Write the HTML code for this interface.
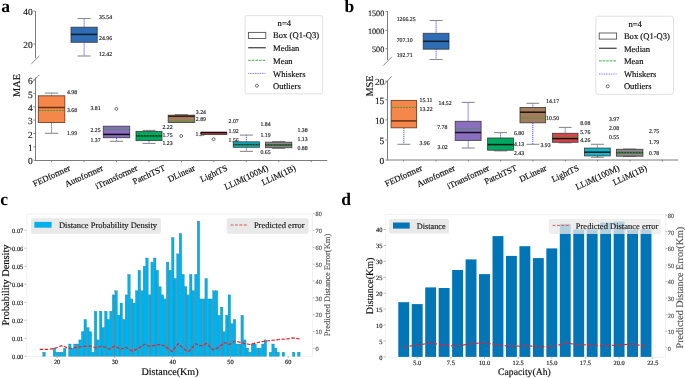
<!DOCTYPE html>
<html><head><meta charset="utf-8"><style>
html,body{margin:0;padding:0;background:#fff;}
body{width:685px;height:378px;overflow:hidden;}
svg{display:block;font-family:"Liberation Serif", serif;will-change:transform;text-rendering:geometricPrecision;}
</style></head><body>
<svg width="685" height="378" viewBox="0 0 685 378">
<rect width="685" height="378" fill="#fff"/>
<text x="1.3" y="11.76" font-size="17.5" text-anchor="start" fill="#000" stroke="#000" stroke-width="0" font-weight="bold" >a</text>
<line x1="35.5" y1="11.1" x2="35.5" y2="58.2" stroke="#6e6e6e" stroke-width="0.9" />
<line x1="33.4" y1="11.1" x2="35.3" y2="11.1" stroke="#6e6e6e" stroke-width="0.8" />
<text x="32.7" y="15.25" font-size="9.4" text-anchor="end" fill="#1a1a1a" stroke="#1a1a1a" stroke-width="0.15" font-weight="normal" >40</text>
<line x1="33.4" y1="44" x2="35.3" y2="44" stroke="#6e6e6e" stroke-width="0.8" />
<text x="32.7" y="48.15" font-size="9.4" text-anchor="end" fill="#1a1a1a" stroke="#1a1a1a" stroke-width="0.15" font-weight="normal" >20</text>
<line x1="31.4" y1="63.8" x2="39.4" y2="55.9" stroke="#6e6e6e" stroke-width="0.8" />
<line x1="31.4" y1="82.9" x2="39.4" y2="74.9" stroke="#6e6e6e" stroke-width="0.8" />
<line x1="35.5" y1="77.3" x2="35.5" y2="160.5" stroke="#6e6e6e" stroke-width="0.9" />
<line x1="35" y1="160.5" x2="327.3" y2="160.5" stroke="#6e6e6e" stroke-width="0.9" />
<line x1="33.4" y1="160.3" x2="35.3" y2="160.3" stroke="#6e6e6e" stroke-width="0.8" />
<text x="32.7" y="164.45" font-size="9.4" text-anchor="end" fill="#1a1a1a" stroke="#1a1a1a" stroke-width="0.15" font-weight="normal" >0</text>
<line x1="33.4" y1="146.92" x2="35.3" y2="146.92" stroke="#6e6e6e" stroke-width="0.8" />
<text x="32.7" y="151.07" font-size="9.4" text-anchor="end" fill="#1a1a1a" stroke="#1a1a1a" stroke-width="0.15" font-weight="normal" >1</text>
<line x1="33.4" y1="133.54" x2="35.3" y2="133.54" stroke="#6e6e6e" stroke-width="0.8" />
<text x="32.7" y="137.69" font-size="9.4" text-anchor="end" fill="#1a1a1a" stroke="#1a1a1a" stroke-width="0.15" font-weight="normal" >2</text>
<line x1="33.4" y1="120.16" x2="35.3" y2="120.16" stroke="#6e6e6e" stroke-width="0.8" />
<text x="32.7" y="124.31" font-size="9.4" text-anchor="end" fill="#1a1a1a" stroke="#1a1a1a" stroke-width="0.15" font-weight="normal" >3</text>
<line x1="33.4" y1="106.78" x2="35.3" y2="106.78" stroke="#6e6e6e" stroke-width="0.8" />
<text x="32.7" y="110.93" font-size="9.4" text-anchor="end" fill="#1a1a1a" stroke="#1a1a1a" stroke-width="0.15" font-weight="normal" >4</text>
<line x1="33.4" y1="93.4" x2="35.3" y2="93.4" stroke="#6e6e6e" stroke-width="0.8" />
<text x="32.7" y="97.55" font-size="9.4" text-anchor="end" fill="#1a1a1a" stroke="#1a1a1a" stroke-width="0.15" font-weight="normal" >5</text>
<line x1="33.4" y1="80.02" x2="35.3" y2="80.02" stroke="#6e6e6e" stroke-width="0.8" />
<text x="32.7" y="84.17" font-size="9.4" text-anchor="end" fill="#1a1a1a" stroke="#1a1a1a" stroke-width="0.15" font-weight="normal" >6</text>
<line x1="51.6" y1="160.5" x2="51.6" y2="162.2" stroke="#6e6e6e" stroke-width="0.8" />
<line x1="84.05" y1="160.5" x2="84.05" y2="162.2" stroke="#6e6e6e" stroke-width="0.8" />
<line x1="116.5" y1="160.5" x2="116.5" y2="162.2" stroke="#6e6e6e" stroke-width="0.8" />
<line x1="148.95" y1="160.5" x2="148.95" y2="162.2" stroke="#6e6e6e" stroke-width="0.8" />
<line x1="181.4" y1="160.5" x2="181.4" y2="162.2" stroke="#6e6e6e" stroke-width="0.8" />
<line x1="213.85" y1="160.5" x2="213.85" y2="162.2" stroke="#6e6e6e" stroke-width="0.8" />
<line x1="246.3" y1="160.5" x2="246.3" y2="162.2" stroke="#6e6e6e" stroke-width="0.8" />
<line x1="278.75" y1="160.5" x2="278.75" y2="162.2" stroke="#6e6e6e" stroke-width="0.8" />
<line x1="311.2" y1="160.5" x2="311.2" y2="162.2" stroke="#6e6e6e" stroke-width="0.8" />
<text x="17" y="88.59" font-size="10.3" text-anchor="middle" fill="#0a0a0a" stroke="#0a0a0a" stroke-width="0.15" transform="rotate(-90 17 85.5)">MAE</text>
<line x1="51.55" y1="93.1" x2="51.55" y2="95.8" stroke="#3b3bff" stroke-width="0.9" stroke-dasharray="1.2 0.8" />
<line x1="51.55" y1="122.5" x2="51.55" y2="133.3" stroke="#3b3bff" stroke-width="0.9" stroke-dasharray="1.2 0.8" />
<line x1="44.92" y1="93.1" x2="58.17" y2="93.1" stroke="#8c8c8c" stroke-width="1.1" />
<line x1="44.92" y1="133.3" x2="58.17" y2="133.3" stroke="#8c8c8c" stroke-width="1.1" />
<rect x="38.3" y="95.8" width="26.5" height="26.7" fill="#f5874b" stroke="rgba(90,45,20,0.85)" stroke-width="0.9" rx="0" />
<line x1="38.3" y1="107.5" x2="64.8" y2="107.5" stroke="rgba(90,40,10,0.9)" stroke-width="1.5" />
<line x1="38.9" y1="110.5" x2="64.2" y2="110.5" stroke="#2ca02c" stroke-width="0.9" stroke-dasharray="1.9 1.0" />
<text x="66.9" y="93.94" font-size="5.8" text-anchor="start" fill="#222" stroke="#222" stroke-width="0.15" font-weight="normal" >4.98</text>
<text x="66.9" y="111.94" font-size="5.8" text-anchor="start" fill="#222" stroke="#222" stroke-width="0.15" font-weight="normal" >3.68</text>
<text x="66.9" y="134.54" font-size="5.8" text-anchor="start" fill="#222" stroke="#222" stroke-width="0.15" font-weight="normal" >1.99</text>
<line x1="84.1" y1="18.5" x2="84.1" y2="27.2" stroke="#3b3bff" stroke-width="0.9" stroke-dasharray="1.2 0.8" />
<line x1="84.1" y1="42.3" x2="84.1" y2="56" stroke="#3b3bff" stroke-width="0.9" stroke-dasharray="1.2 0.8" />
<line x1="77.55" y1="18.5" x2="90.65" y2="18.5" stroke="#8c8c8c" stroke-width="1.1" />
<line x1="77.55" y1="56" x2="90.65" y2="56" stroke="#8c8c8c" stroke-width="1.1" />
<rect x="71" y="27.2" width="26.2" height="15.1" fill="#2f6db5" stroke="rgba(50,50,50,0.85)" stroke-width="0.9" rx="0" />
<line x1="71" y1="34.4" x2="97.2" y2="34.4" stroke="rgba(0,20,20,0.85)" stroke-width="1.5" />
<text x="99" y="18.64" font-size="5.8" text-anchor="start" fill="#222" stroke="#222" stroke-width="0.15" font-weight="normal" >35.54</text>
<text x="99" y="40.34" font-size="5.8" text-anchor="start" fill="#222" stroke="#222" stroke-width="0.15" font-weight="normal" >24.96</text>
<text x="99" y="56.14" font-size="5.8" text-anchor="start" fill="#222" stroke="#222" stroke-width="0.15" font-weight="normal" >12.42</text>
<text x="100.6" y="109.94" font-size="5.8" text-anchor="end" fill="#222" stroke="#222" stroke-width="0.15" font-weight="normal" >3.81</text>
<text x="100.6" y="131.74" font-size="5.8" text-anchor="end" fill="#222" stroke="#222" stroke-width="0.15" font-weight="normal" >2.25</text>
<text x="100.6" y="141.64" font-size="5.8" text-anchor="end" fill="#222" stroke="#222" stroke-width="0.15" font-weight="normal" >1.37</text>
<line x1="116.5" y1="137.7" x2="116.5" y2="141.3" stroke="#3b3bff" stroke-width="0.9" stroke-dasharray="1.2 0.8" />
<line x1="109.9" y1="141.3" x2="123.1" y2="141.3" stroke="#8c8c8c" stroke-width="1.1" />
<rect x="103.3" y="126.2" width="26.4" height="11.5" fill="#8c6ebf" stroke="rgba(50,50,50,0.85)" stroke-width="0.9" rx="0" />
<line x1="103.3" y1="134.4" x2="129.7" y2="134.4" stroke="rgba(0,0,0,0.9)" stroke-width="1.5" />
<line x1="103.9" y1="129.4" x2="129.1" y2="129.4" stroke="#2ca02c" stroke-width="0.9" stroke-dasharray="1.9 1.0" />
<circle cx="116.4" cy="108.9" r="1.45" fill="none" stroke="#333" stroke-width="0.7"/>
<line x1="149" y1="130.4" x2="149" y2="131.4" stroke="#3b3bff" stroke-width="0.9" stroke-dasharray="1.2 0.8" />
<line x1="149" y1="140.6" x2="149" y2="143.4" stroke="#3b3bff" stroke-width="0.9" stroke-dasharray="1.2 0.8" />
<line x1="142.5" y1="130.4" x2="155.5" y2="130.4" stroke="#8c8c8c" stroke-width="1.1" />
<line x1="142.5" y1="143.4" x2="155.5" y2="143.4" stroke="#8c8c8c" stroke-width="1.1" />
<rect x="136" y="131.4" width="26" height="9.2" fill="#00a862" stroke="rgba(50,50,50,0.85)" stroke-width="0.9" rx="0" />
<line x1="136" y1="135.8" x2="162" y2="135.8" stroke="rgba(0,0,0,0.8)" stroke-width="1.5" />
<line x1="136.6" y1="135.8" x2="161.4" y2="135.8" stroke="#2ca02c" stroke-width="0.9" stroke-dasharray="1.9 1.0" />
<text x="162.4" y="129.04" font-size="5.8" text-anchor="start" fill="#222" stroke="#222" stroke-width="0.15" font-weight="normal" >2.22</text>
<text x="162.4" y="137.44" font-size="5.8" text-anchor="start" fill="#222" stroke="#222" stroke-width="0.15" font-weight="normal" >1.75</text>
<text x="162.4" y="144.54" font-size="5.8" text-anchor="start" fill="#222" stroke="#222" stroke-width="0.15" font-weight="normal" >1.23</text>
<line x1="181.45" y1="114.6" x2="181.45" y2="115.2" stroke="#3b3bff" stroke-width="0.9" stroke-dasharray="1.2 0.8" />
<line x1="174.82" y1="114.6" x2="188.07" y2="114.6" stroke="#8c8c8c" stroke-width="1.1" />
<rect x="168.2" y="115.2" width="26.5" height="7.3" fill="#a67c5e" stroke="rgba(50,50,50,0.85)" stroke-width="0.9" rx="0" />
<line x1="168.2" y1="116.3" x2="194.7" y2="116.3" stroke="rgba(40,20,10,0.85)" stroke-width="1.5" />
<line x1="168.8" y1="121.2" x2="194.1" y2="121.2" stroke="#2ca02c" stroke-width="0.9" stroke-dasharray="1.9 1.0" />
<circle cx="181.2" cy="136" r="1.45" fill="none" stroke="#333" stroke-width="0.7"/>
<text x="195.8" y="114.14" font-size="5.8" text-anchor="start" fill="#222" stroke="#222" stroke-width="0.15" font-weight="normal" >3.24</text>
<text x="195.8" y="121.44" font-size="5.8" text-anchor="start" fill="#222" stroke="#222" stroke-width="0.15" font-weight="normal" >2.89</text>
<text x="195.5" y="136.04" font-size="5.8" text-anchor="start" fill="#222" stroke="#222" stroke-width="0.15" font-weight="normal" >1.57</text>
<rect x="201" y="132.2" width="25.8" height="2.4" fill="#d9434b" stroke="rgba(50,50,50,0.85)" stroke-width="0.9" rx="0" />
<line x1="201" y1="132.6" x2="226.8" y2="132.6" stroke="rgba(0,0,0,0.85)" stroke-width="1.5" />
<circle cx="213.6" cy="139.2" r="1.45" fill="none" stroke="#333" stroke-width="0.7"/>
<text x="228.6" y="123.14" font-size="5.8" text-anchor="start" fill="#222" stroke="#222" stroke-width="0.15" font-weight="normal" >2.07</text>
<text x="228.6" y="132.74" font-size="5.8" text-anchor="start" fill="#222" stroke="#222" stroke-width="0.15" font-weight="normal" >1.92</text>
<text x="228.6" y="141.64" font-size="5.8" text-anchor="start" fill="#222" stroke="#222" stroke-width="0.15" font-weight="normal" >1.56</text>
<line x1="246.35" y1="135.1" x2="246.35" y2="141.8" stroke="#3b3bff" stroke-width="0.9" stroke-dasharray="1.2 0.8" />
<line x1="246.35" y1="147.3" x2="246.35" y2="151.4" stroke="#3b3bff" stroke-width="0.9" stroke-dasharray="1.2 0.8" />
<line x1="239.82" y1="135.1" x2="252.88" y2="135.1" stroke="#8c8c8c" stroke-width="1.1" />
<line x1="239.82" y1="151.4" x2="252.88" y2="151.4" stroke="#8c8c8c" stroke-width="1.1" />
<rect x="233.3" y="141.8" width="26.1" height="5.5" fill="#17b3c9" stroke="rgba(50,50,50,0.85)" stroke-width="0.9" rx="0" />
<line x1="233.3" y1="144.6" x2="259.4" y2="144.6" stroke="rgba(0,0,0,0.8)" stroke-width="1.5" />
<line x1="233.9" y1="144.8" x2="258.8" y2="144.8" stroke="#2ca02c" stroke-width="0.9" stroke-dasharray="1.9 1.0" />
<text x="260.4" y="125.54" font-size="5.8" text-anchor="start" fill="#222" stroke="#222" stroke-width="0.15" font-weight="normal" >1.84</text>
<text x="260.4" y="137.44" font-size="5.8" text-anchor="start" fill="#222" stroke="#222" stroke-width="0.15" font-weight="normal" >1.19</text>
<text x="260.4" y="154.04" font-size="5.8" text-anchor="start" fill="#222" stroke="#222" stroke-width="0.15" font-weight="normal" >0.65</text>
<line x1="278.65" y1="141.5" x2="278.65" y2="142.2" stroke="#3b3bff" stroke-width="0.9" stroke-dasharray="1.2 0.8" />
<line x1="278.65" y1="147.7" x2="278.65" y2="148.4" stroke="#3b3bff" stroke-width="0.9" stroke-dasharray="1.2 0.8" />
<line x1="272.07" y1="141.5" x2="285.22" y2="141.5" stroke="#8c8c8c" stroke-width="1.1" />
<line x1="272.07" y1="148.4" x2="285.22" y2="148.4" stroke="#8c8c8c" stroke-width="1.1" />
<rect x="265.5" y="142.2" width="26.3" height="5.5" fill="#8a8a8a" stroke="rgba(50,50,50,0.85)" stroke-width="0.9" rx="0" />
<line x1="265.5" y1="145" x2="291.8" y2="145" stroke="rgba(0,0,0,0.7)" stroke-width="1.5" />
<line x1="266.1" y1="145" x2="291.2" y2="145" stroke="#2ca02c" stroke-width="0.9" stroke-dasharray="1.9 1.0" />
<text x="297.5" y="132.44" font-size="5.8" text-anchor="start" fill="#222" stroke="#222" stroke-width="0.15" font-weight="normal" >1.38</text>
<text x="297.5" y="141.04" font-size="5.8" text-anchor="start" fill="#222" stroke="#222" stroke-width="0.15" font-weight="normal" >1.13</text>
<text x="297.5" y="150.04" font-size="5.8" text-anchor="start" fill="#222" stroke="#222" stroke-width="0.15" font-weight="normal" >0.88</text>
<rect x="245" y="15.6" width="77.7" height="78.2" fill="#ffffff" stroke="#d9d9d9" stroke-width="0.8" rx="2.2" />
<text x="284.35" y="26.08" font-size="8.6" text-anchor="middle" fill="#0a0a0a" stroke="#0a0a0a" stroke-width="0.15" font-weight="normal" >n=4</text>
<rect x="248.4" y="32.4" width="17.4" height="6.1" fill="none" stroke="#555" stroke-width="0.9" rx="0" />
<text x="273.1" y="38.38" font-size="8.6" text-anchor="start" fill="#0a0a0a" stroke="#0a0a0a" stroke-width="0.15" font-weight="normal" >Box (Q1-Q3)</text>
<line x1="248.2" y1="47.7" x2="265.8" y2="47.7" stroke="#555" stroke-width="1.4" />
<text x="273.1" y="51.28" font-size="8.6" text-anchor="start" fill="#0a0a0a" stroke="#0a0a0a" stroke-width="0.15" font-weight="normal" >Median</text>
<line x1="248.2" y1="60.3" x2="265.8" y2="60.3" stroke="#2ca02c" stroke-width="0.9" stroke-dasharray="2.6 1.0" />
<text x="273.1" y="63.78" font-size="8.6" text-anchor="start" fill="#0a0a0a" stroke="#0a0a0a" stroke-width="0.15" font-weight="normal" >Mean</text>
<line x1="248.2" y1="73.4" x2="265.8" y2="73.4" stroke="#6a6aff" stroke-width="0.9" stroke-dasharray="1 0.7" />
<text x="273.1" y="76.68" font-size="8.6" text-anchor="start" fill="#0a0a0a" stroke="#0a0a0a" stroke-width="0.15" font-weight="normal" >Whiskers</text>
<circle cx="256.9" cy="85.7" r="1.5" fill="none" stroke="#333" stroke-width="0.7"/>
<text x="273.1" y="88.88" font-size="8.6" text-anchor="start" fill="#0a0a0a" stroke="#0a0a0a" stroke-width="0.15" font-weight="normal" >Outliers</text>
<text x="51.6" y="178.63" font-size="8.7" text-anchor="middle" fill="#0a0a0a" stroke="#0a0a0a" stroke-width="0.15" transform="rotate(-25 51.6 176.02)">FEDformer</text>
<text x="84.05" y="178.84" font-size="8.7" text-anchor="middle" fill="#0a0a0a" stroke="#0a0a0a" stroke-width="0.15" transform="rotate(-25 84.05 176.23)">Autoformer</text>
<text x="116.5" y="179.79" font-size="8.7" text-anchor="middle" fill="#0a0a0a" stroke="#0a0a0a" stroke-width="0.15" transform="rotate(-25 116.5 177.18)">iTransformer</text>
<text x="148.95" y="177.51" font-size="8.7" text-anchor="middle" fill="#0a0a0a" stroke="#0a0a0a" stroke-width="0.15" transform="rotate(-25 148.95 174.9)">PatchTST</text>
<text x="181.4" y="176.28" font-size="8.7" text-anchor="middle" fill="#0a0a0a" stroke="#0a0a0a" stroke-width="0.15" transform="rotate(-25 181.4 173.67)">DLinear</text>
<text x="213.85" y="176.29" font-size="8.7" text-anchor="middle" fill="#0a0a0a" stroke="#0a0a0a" stroke-width="0.15" transform="rotate(-25 213.85 173.68)">LightTS</text>
<text x="246.3" y="180.17" font-size="8.7" text-anchor="middle" fill="#0a0a0a" stroke="#0a0a0a" stroke-width="0.15" transform="rotate(-25 246.3 177.56)">LLiM(100M)</text>
<text x="278.75" y="177.92" font-size="8.7" text-anchor="middle" fill="#0a0a0a" stroke="#0a0a0a" stroke-width="0.15" transform="rotate(-25 278.75 175.31)">LLiM(1B)</text>
<text x="344.6" y="11.76" font-size="17.5" text-anchor="start" fill="#000" stroke="#000" stroke-width="0" font-weight="bold" >b</text>
<line x1="387.5" y1="11" x2="387.5" y2="60" stroke="#6e6e6e" stroke-width="0.9" />
<line x1="385.4" y1="11.8" x2="387.3" y2="11.8" stroke="#6e6e6e" stroke-width="0.8" />
<text x="384.3" y="15.55" font-size="8.2" text-anchor="end" fill="#1a1a1a" stroke="#1a1a1a" stroke-width="0.15" font-weight="normal" >1500</text>
<line x1="385.4" y1="30.3" x2="387.3" y2="30.3" stroke="#6e6e6e" stroke-width="0.8" />
<text x="384.3" y="34.05" font-size="8.2" text-anchor="end" fill="#1a1a1a" stroke="#1a1a1a" stroke-width="0.15" font-weight="normal" >1000</text>
<line x1="385.4" y1="48.7" x2="387.3" y2="48.7" stroke="#6e6e6e" stroke-width="0.8" />
<text x="384.3" y="52.45" font-size="8.2" text-anchor="end" fill="#1a1a1a" stroke="#1a1a1a" stroke-width="0.15" font-weight="normal" >500</text>
<line x1="383.2" y1="65.6" x2="391.9" y2="56.8" stroke="#6e6e6e" stroke-width="0.8" />
<line x1="383.8" y1="85" x2="391.7" y2="76.3" stroke="#6e6e6e" stroke-width="0.8" />
<line x1="387.5" y1="80.5" x2="387.5" y2="160" stroke="#6e6e6e" stroke-width="0.9" />
<line x1="387" y1="160" x2="678.2" y2="160" stroke="#7a7a7a" stroke-width="1" />
<line x1="385.4" y1="160.1" x2="387.3" y2="160.1" stroke="#6e6e6e" stroke-width="0.8" />
<text x="384.3" y="164.25" font-size="9.4" text-anchor="end" fill="#1a1a1a" stroke="#1a1a1a" stroke-width="0.15" font-weight="normal" >0</text>
<line x1="385.4" y1="140" x2="387.3" y2="140" stroke="#6e6e6e" stroke-width="0.8" />
<text x="384.3" y="144.15" font-size="9.4" text-anchor="end" fill="#1a1a1a" stroke="#1a1a1a" stroke-width="0.15" font-weight="normal" >5</text>
<line x1="385.4" y1="119.9" x2="387.3" y2="119.9" stroke="#6e6e6e" stroke-width="0.8" />
<text x="384.3" y="124.05" font-size="9.4" text-anchor="end" fill="#1a1a1a" stroke="#1a1a1a" stroke-width="0.15" font-weight="normal" >10</text>
<line x1="385.4" y1="99.8" x2="387.3" y2="99.8" stroke="#6e6e6e" stroke-width="0.8" />
<text x="384.3" y="103.95" font-size="9.4" text-anchor="end" fill="#1a1a1a" stroke="#1a1a1a" stroke-width="0.15" font-weight="normal" >15</text>
<line x1="385.4" y1="81.2" x2="387.3" y2="81.2" stroke="#6e6e6e" stroke-width="0.8" />
<text x="384.3" y="85.35" font-size="9.4" text-anchor="end" fill="#1a1a1a" stroke="#1a1a1a" stroke-width="0.15" font-weight="normal" >20</text>
<line x1="403.6" y1="160" x2="403.6" y2="161.6" stroke="#6e6e6e" stroke-width="0.8" />
<line x1="435.94" y1="160" x2="435.94" y2="161.6" stroke="#6e6e6e" stroke-width="0.8" />
<line x1="468.28" y1="160" x2="468.28" y2="161.6" stroke="#6e6e6e" stroke-width="0.8" />
<line x1="500.62" y1="160" x2="500.62" y2="161.6" stroke="#6e6e6e" stroke-width="0.8" />
<line x1="532.96" y1="160" x2="532.96" y2="161.6" stroke="#6e6e6e" stroke-width="0.8" />
<line x1="565.3" y1="160" x2="565.3" y2="161.6" stroke="#6e6e6e" stroke-width="0.8" />
<line x1="597.64" y1="160" x2="597.64" y2="161.6" stroke="#6e6e6e" stroke-width="0.8" />
<line x1="629.98" y1="160" x2="629.98" y2="161.6" stroke="#6e6e6e" stroke-width="0.8" />
<line x1="662.32" y1="160" x2="662.32" y2="161.6" stroke="#6e6e6e" stroke-width="0.8" />
<text x="369.5" y="89.09" font-size="10.3" text-anchor="middle" fill="#0a0a0a" stroke="#0a0a0a" stroke-width="0.15" transform="rotate(-90 369.5 86)">MSE</text>
<line x1="403.85" y1="127.8" x2="403.85" y2="144.3" stroke="#3b3bff" stroke-width="0.9" stroke-dasharray="1.2 0.8" />
<line x1="397.48" y1="144.3" x2="410.23" y2="144.3" stroke="#8c8c8c" stroke-width="1.1" />
<rect x="391.1" y="100.4" width="25.5" height="27.4" fill="#f5874b" stroke="rgba(90,45,20,0.85)" stroke-width="0.9" rx="0" />
<line x1="391.1" y1="120.9" x2="416.6" y2="120.9" stroke="rgba(90,40,10,0.9)" stroke-width="1.5" />
<line x1="391.7" y1="107.4" x2="416" y2="107.4" stroke="#2ca02c" stroke-width="0.9" stroke-dasharray="1.9 1.0" />
<text x="419.5" y="101.64" font-size="5.8" text-anchor="start" fill="#222" stroke="#222" stroke-width="0.15" font-weight="normal" >15.11</text>
<text x="419.5" y="111.34" font-size="5.8" text-anchor="start" fill="#222" stroke="#222" stroke-width="0.15" font-weight="normal" >13.22</text>
<text x="419.5" y="144.74" font-size="5.8" text-anchor="start" fill="#222" stroke="#222" stroke-width="0.15" font-weight="normal" >3.96</text>
<line x1="436.1" y1="20.5" x2="436.1" y2="33.3" stroke="#3b3bff" stroke-width="0.9" stroke-dasharray="1.2 0.8" />
<line x1="436.1" y1="49.2" x2="436.1" y2="59.5" stroke="#3b3bff" stroke-width="0.9" stroke-dasharray="1.2 0.8" />
<line x1="429.65" y1="20.5" x2="442.55" y2="20.5" stroke="#8c8c8c" stroke-width="1.1" />
<line x1="429.65" y1="59.5" x2="442.55" y2="59.5" stroke="#8c8c8c" stroke-width="1.1" />
<rect x="423.2" y="33.3" width="25.8" height="15.9" fill="#2f6db5" stroke="rgba(50,50,50,0.85)" stroke-width="0.9" rx="0" />
<line x1="423.2" y1="41.3" x2="449" y2="41.3" stroke="rgba(0,20,20,0.85)" stroke-width="1.5" />
<text x="396.7" y="21.44" font-size="5.8" text-anchor="start" fill="#222" stroke="#222" stroke-width="0.15" font-weight="normal" >1266.25</text>
<text x="396.7" y="41.74" font-size="5.8" text-anchor="start" fill="#222" stroke="#222" stroke-width="0.15" font-weight="normal" >707.10</text>
<text x="396.7" y="57.14" font-size="5.8" text-anchor="start" fill="#222" stroke="#222" stroke-width="0.15" font-weight="normal" >192.71</text>
<text x="438.6" y="104.94" font-size="5.8" text-anchor="start" fill="#222" stroke="#222" stroke-width="0.15" font-weight="normal" >14.52</text>
<text x="437.2" y="129.24" font-size="5.8" text-anchor="start" fill="#222" stroke="#222" stroke-width="0.15" font-weight="normal" >7.78</text>
<text x="437.6" y="148.84" font-size="5.8" text-anchor="start" fill="#222" stroke="#222" stroke-width="0.15" font-weight="normal" >3.02</text>
<line x1="468.15" y1="102.4" x2="468.15" y2="121.3" stroke="#3b3bff" stroke-width="0.9" stroke-dasharray="1.2 0.8" />
<line x1="468.15" y1="140.4" x2="468.15" y2="148" stroke="#3b3bff" stroke-width="0.9" stroke-dasharray="1.2 0.8" />
<line x1="461.67" y1="102.4" x2="474.62" y2="102.4" stroke="#8c8c8c" stroke-width="1.1" />
<line x1="461.67" y1="148" x2="474.62" y2="148" stroke="#8c8c8c" stroke-width="1.1" />
<rect x="455.2" y="121.3" width="25.9" height="19.1" fill="#8c6ebf" stroke="rgba(50,50,50,0.85)" stroke-width="0.9" rx="0" />
<line x1="455.2" y1="132.5" x2="481.1" y2="132.5" stroke="rgba(0,0,0,0.85)" stroke-width="1.5" />
<line x1="455.8" y1="128.9" x2="480.5" y2="128.9" stroke="#2ca02c" stroke-width="0.9" stroke-dasharray="1.9 1.0" />
<line x1="500.55" y1="132.6" x2="500.55" y2="138" stroke="#3b3bff" stroke-width="0.9" stroke-dasharray="1.2 0.8" />
<line x1="500.55" y1="150.2" x2="500.55" y2="150.9" stroke="#3b3bff" stroke-width="0.9" stroke-dasharray="1.2 0.8" />
<line x1="494.08" y1="132.6" x2="507.02" y2="132.6" stroke="#8c8c8c" stroke-width="1.1" />
<line x1="494.08" y1="150.9" x2="507.02" y2="150.9" stroke="#8c8c8c" stroke-width="1.1" />
<rect x="487.6" y="138" width="25.9" height="12.2" fill="#00a862" stroke="rgba(50,50,50,0.85)" stroke-width="0.9" rx="0" />
<line x1="487.6" y1="144.6" x2="513.5" y2="144.6" stroke="rgba(0,0,0,0.85)" stroke-width="1.5" />
<text x="513.9" y="135.24" font-size="5.8" text-anchor="start" fill="#222" stroke="#222" stroke-width="0.15" font-weight="normal" >6.80</text>
<text x="513.9" y="146.04" font-size="5.8" text-anchor="start" fill="#222" stroke="#222" stroke-width="0.15" font-weight="normal" >4.13</text>
<text x="513.9" y="154.74" font-size="5.8" text-anchor="start" fill="#222" stroke="#222" stroke-width="0.15" font-weight="normal" >2.43</text>
<line x1="532.8" y1="103.3" x2="532.8" y2="107.5" stroke="#3b3bff" stroke-width="0.9" stroke-dasharray="1.2 0.8" />
<line x1="532.8" y1="122.8" x2="532.8" y2="144.3" stroke="#3b3bff" stroke-width="0.9" stroke-dasharray="1.2 0.8" />
<line x1="526.4" y1="103.3" x2="539.2" y2="103.3" stroke="#8c8c8c" stroke-width="1.1" />
<line x1="526.4" y1="144.3" x2="539.2" y2="144.3" stroke="#8c8c8c" stroke-width="1.1" />
<rect x="520" y="107.5" width="25.6" height="15.3" fill="#a67c5e" stroke="rgba(50,50,50,0.85)" stroke-width="0.9" rx="0" />
<line x1="520" y1="112.2" x2="545.6" y2="112.2" stroke="rgba(0,0,0,0.85)" stroke-width="1.5" />
<line x1="520.6" y1="118.1" x2="545" y2="118.1" stroke="#2ca02c" stroke-width="0.9" stroke-dasharray="1.9 1.0" />
<text x="546.1" y="103.04" font-size="5.8" text-anchor="start" fill="#222" stroke="#222" stroke-width="0.15" font-weight="normal" >14.17</text>
<text x="546.1" y="119.54" font-size="5.8" text-anchor="start" fill="#222" stroke="#222" stroke-width="0.15" font-weight="normal" >10.50</text>
<text x="540.4" y="146.54" font-size="5.8" text-anchor="start" fill="#222" stroke="#222" stroke-width="0.15" font-weight="normal" >3.93</text>
<line x1="565.2" y1="127.4" x2="565.2" y2="133.3" stroke="#3b3bff" stroke-width="0.9" stroke-dasharray="1.2 0.8" />
<line x1="565.2" y1="142.3" x2="565.2" y2="142.8" stroke="#3b3bff" stroke-width="0.9" stroke-dasharray="1.2 0.8" />
<line x1="558.8" y1="127.4" x2="571.6" y2="127.4" stroke="#8c8c8c" stroke-width="1.1" />
<line x1="558.8" y1="142.8" x2="571.6" y2="142.8" stroke="#8c8c8c" stroke-width="1.1" />
<rect x="552.4" y="133.3" width="25.6" height="9" fill="#d9434b" stroke="rgba(50,50,50,0.85)" stroke-width="0.9" rx="0" />
<line x1="552.4" y1="138.6" x2="578" y2="138.6" stroke="rgba(0,0,0,0.85)" stroke-width="1.5" />
<line x1="553" y1="136.5" x2="577.4" y2="136.5" stroke="#2ca02c" stroke-width="0.9" stroke-dasharray="1.9 1.0" />
<text x="580.2" y="125.04" font-size="5.8" text-anchor="start" fill="#222" stroke="#222" stroke-width="0.15" font-weight="normal" >8.08</text>
<text x="580.2" y="133.94" font-size="5.8" text-anchor="start" fill="#222" stroke="#222" stroke-width="0.15" font-weight="normal" >5.76</text>
<text x="580.2" y="142.34" font-size="5.8" text-anchor="start" fill="#222" stroke="#222" stroke-width="0.15" font-weight="normal" >4.26</text>
<line x1="597.4" y1="144.3" x2="597.4" y2="148.1" stroke="#3b3bff" stroke-width="0.9" stroke-dasharray="1.2 0.8" />
<line x1="597.4" y1="155.9" x2="597.4" y2="157.3" stroke="#3b3bff" stroke-width="0.9" stroke-dasharray="1.2 0.8" />
<line x1="590.95" y1="144.3" x2="603.85" y2="144.3" stroke="#8c8c8c" stroke-width="1.1" />
<line x1="590.95" y1="157.3" x2="603.85" y2="157.3" stroke="#8c8c8c" stroke-width="1.1" />
<rect x="584.5" y="148.1" width="25.8" height="7.8" fill="#17b3c9" stroke="rgba(50,50,50,0.85)" stroke-width="0.9" rx="0" />
<line x1="584.5" y1="152.2" x2="610.3" y2="152.2" stroke="rgba(0,0,0,0.85)" stroke-width="1.5" />
<text x="608.9" y="121.44" font-size="5.8" text-anchor="start" fill="#222" stroke="#222" stroke-width="0.15" font-weight="normal" >3.97</text>
<text x="608.9" y="130.14" font-size="5.8" text-anchor="start" fill="#222" stroke="#222" stroke-width="0.15" font-weight="normal" >2.08</text>
<text x="608.9" y="138.84" font-size="5.8" text-anchor="start" fill="#222" stroke="#222" stroke-width="0.15" font-weight="normal" >0.55</text>
<line x1="623.02" y1="149" x2="636.27" y2="149" stroke="#8c8c8c" stroke-width="1.1" />
<line x1="623.02" y1="156.5" x2="636.27" y2="156.5" stroke="#8c8c8c" stroke-width="1.1" />
<rect x="616.4" y="149.3" width="26.5" height="6.9" fill="#8a8a8a" stroke="rgba(50,50,50,0.85)" stroke-width="0.9" rx="0" />
<line x1="616.4" y1="152.6" x2="642.9" y2="152.6" stroke="rgba(0,0,0,0.7)" stroke-width="1.5" />
<line x1="617" y1="152.6" x2="642.3" y2="152.6" stroke="#2ca02c" stroke-width="0.9" stroke-dasharray="1.9 1.0" />
<text x="649.1" y="133.44" font-size="5.8" text-anchor="start" fill="#222" stroke="#222" stroke-width="0.15" font-weight="normal" >2.75</text>
<text x="649.1" y="143.94" font-size="5.8" text-anchor="start" fill="#222" stroke="#222" stroke-width="0.15" font-weight="normal" >1.79</text>
<text x="649.1" y="154.54" font-size="5.8" text-anchor="start" fill="#222" stroke="#222" stroke-width="0.15" font-weight="normal" >0.78</text>
<rect x="595.8" y="16.2" width="77.7" height="78.2" fill="#ffffff" stroke="#d9d9d9" stroke-width="0.8" rx="2.2" />
<text x="635.15" y="26.68" font-size="8.6" text-anchor="middle" fill="#0a0a0a" stroke="#0a0a0a" stroke-width="0.15" font-weight="normal" >n=4</text>
<rect x="599.2" y="33" width="17.4" height="6.1" fill="none" stroke="#555" stroke-width="0.9" rx="0" />
<text x="623.9" y="38.98" font-size="8.6" text-anchor="start" fill="#0a0a0a" stroke="#0a0a0a" stroke-width="0.15" font-weight="normal" >Box (Q1-Q3)</text>
<line x1="599" y1="48.3" x2="616.6" y2="48.3" stroke="#555" stroke-width="1.4" />
<text x="623.9" y="51.88" font-size="8.6" text-anchor="start" fill="#0a0a0a" stroke="#0a0a0a" stroke-width="0.15" font-weight="normal" >Median</text>
<line x1="599" y1="60.9" x2="616.6" y2="60.9" stroke="#2ca02c" stroke-width="0.9" stroke-dasharray="2.6 1.0" />
<text x="623.9" y="64.38" font-size="8.6" text-anchor="start" fill="#0a0a0a" stroke="#0a0a0a" stroke-width="0.15" font-weight="normal" >Mean</text>
<line x1="599" y1="74" x2="616.6" y2="74" stroke="#6a6aff" stroke-width="0.9" stroke-dasharray="1 0.7" />
<text x="623.9" y="77.28" font-size="8.6" text-anchor="start" fill="#0a0a0a" stroke="#0a0a0a" stroke-width="0.15" font-weight="normal" >Whiskers</text>
<circle cx="607.7" cy="86.3" r="1.5" fill="none" stroke="#333" stroke-width="0.7"/>
<text x="623.9" y="89.48" font-size="8.6" text-anchor="start" fill="#0a0a0a" stroke="#0a0a0a" stroke-width="0.15" font-weight="normal" >Outliers</text>
<text x="403.6" y="178.63" font-size="8.7" text-anchor="middle" fill="#0a0a0a" stroke="#0a0a0a" stroke-width="0.15" transform="rotate(-25 403.6 176.02)">FEDformer</text>
<text x="435.94" y="178.84" font-size="8.7" text-anchor="middle" fill="#0a0a0a" stroke="#0a0a0a" stroke-width="0.15" transform="rotate(-25 435.94 176.23)">Autoformer</text>
<text x="468.28" y="179.79" font-size="8.7" text-anchor="middle" fill="#0a0a0a" stroke="#0a0a0a" stroke-width="0.15" transform="rotate(-25 468.28 177.18)">iTransformer</text>
<text x="500.62" y="177.51" font-size="8.7" text-anchor="middle" fill="#0a0a0a" stroke="#0a0a0a" stroke-width="0.15" transform="rotate(-25 500.62 174.9)">PatchTST</text>
<text x="532.96" y="176.28" font-size="8.7" text-anchor="middle" fill="#0a0a0a" stroke="#0a0a0a" stroke-width="0.15" transform="rotate(-25 532.96 173.67)">DLinear</text>
<text x="565.3" y="176.29" font-size="8.7" text-anchor="middle" fill="#0a0a0a" stroke="#0a0a0a" stroke-width="0.15" transform="rotate(-25 565.3 173.68)">LightTS</text>
<text x="597.64" y="180.17" font-size="8.7" text-anchor="middle" fill="#0a0a0a" stroke="#0a0a0a" stroke-width="0.15" transform="rotate(-25 597.64 177.56)">LLiM(100M)</text>
<text x="629.98" y="177.92" font-size="8.7" text-anchor="middle" fill="#0a0a0a" stroke="#0a0a0a" stroke-width="0.15" transform="rotate(-25 629.98 175.31)">LLiM(1B)</text>
<text x="0.3" y="205.26" font-size="17.5" text-anchor="start" fill="#000" stroke="#000" stroke-width="0" font-weight="bold" >c</text>
<rect x="26.8" y="214.1" width="285.8" height="142.2" fill="none" stroke="#ececec" stroke-width="0.7" rx="0" />
<g fill="#00b2eb" stroke="#3a7a95" stroke-width="0.3"><rect x="42.8" y="352.2" width="2.57" height="4.1"/><rect x="53.09" y="348.11" width="2.57" height="8.19"/><rect x="55.66" y="352.2" width="2.57" height="4.1"/><rect x="58.24" y="352.2" width="2.57" height="4.1"/><rect x="60.81" y="352.2" width="2.57" height="4.1"/><rect x="63.38" y="348.11" width="2.57" height="8.19"/><rect x="68.53" y="344.01" width="2.57" height="12.29"/><rect x="71.1" y="348.11" width="2.57" height="8.19"/><rect x="73.68" y="344.01" width="2.57" height="12.29"/><rect x="76.25" y="344.01" width="2.57" height="12.29"/><rect x="78.82" y="339.91" width="2.57" height="16.39"/><rect x="81.39" y="331.72" width="2.57" height="24.58"/><rect x="83.97" y="319.43" width="2.57" height="36.87"/><rect x="86.54" y="327.62" width="2.57" height="28.68"/><rect x="89.11" y="331.72" width="2.57" height="24.58"/><rect x="91.69" y="352.2" width="2.57" height="4.1"/><rect x="94.26" y="311.23" width="2.57" height="45.07"/><rect x="96.83" y="339.91" width="2.57" height="16.39"/><rect x="99.41" y="311.23" width="2.57" height="45.07"/><rect x="101.98" y="327.62" width="2.57" height="28.68"/><rect x="104.55" y="311.23" width="2.57" height="45.07"/><rect x="107.12" y="319.43" width="2.57" height="36.87"/><rect x="109.7" y="311.23" width="2.57" height="45.07"/><rect x="112.27" y="294.85" width="2.57" height="61.46"/><rect x="114.84" y="290.75" width="2.57" height="65.55"/><rect x="117.42" y="315.33" width="2.57" height="40.97"/><rect x="119.99" y="303.04" width="2.57" height="53.26"/><rect x="122.56" y="319.43" width="2.57" height="36.87"/><rect x="125.14" y="294.85" width="2.57" height="61.46"/><rect x="127.71" y="274.36" width="2.57" height="81.94"/><rect x="130.28" y="298.94" width="2.57" height="57.36"/><rect x="132.85" y="303.04" width="2.57" height="53.26"/><rect x="135.43" y="290.75" width="2.57" height="65.55"/><rect x="138" y="270.26" width="2.57" height="86.04"/><rect x="140.57" y="290.75" width="2.57" height="65.55"/><rect x="143.15" y="266.17" width="2.57" height="90.13"/><rect x="145.72" y="257.97" width="2.57" height="98.33"/><rect x="148.29" y="294.85" width="2.57" height="61.46"/><rect x="150.87" y="262.07" width="2.57" height="94.23"/><rect x="153.44" y="257.97" width="2.57" height="98.33"/><rect x="156.01" y="270.26" width="2.57" height="86.04"/><rect x="158.58" y="286.65" width="2.57" height="69.65"/><rect x="161.16" y="294.85" width="2.57" height="61.46"/><rect x="163.73" y="298.94" width="2.57" height="57.36"/><rect x="166.3" y="262.07" width="2.57" height="94.23"/><rect x="168.88" y="270.26" width="2.57" height="86.04"/><rect x="171.45" y="237.49" width="2.57" height="118.81"/><rect x="174.02" y="278.46" width="2.57" height="77.84"/><rect x="176.6" y="253.88" width="2.57" height="102.43"/><rect x="179.17" y="233.39" width="2.57" height="122.91"/><rect x="181.74" y="274.36" width="2.57" height="81.94"/><rect x="184.31" y="286.65" width="2.57" height="69.65"/><rect x="186.89" y="294.85" width="2.57" height="61.46"/><rect x="189.46" y="274.36" width="2.57" height="81.94"/><rect x="192.03" y="290.75" width="2.57" height="65.55"/><rect x="194.61" y="274.36" width="2.57" height="81.94"/><rect x="197.18" y="221.1" width="2.57" height="135.2"/><rect x="199.75" y="298.94" width="2.57" height="57.36"/><rect x="202.33" y="298.94" width="2.57" height="57.36"/><rect x="204.9" y="278.46" width="2.57" height="77.84"/><rect x="207.47" y="298.94" width="2.57" height="57.36"/><rect x="210.05" y="298.94" width="2.57" height="57.36"/><rect x="212.62" y="290.75" width="2.57" height="65.55"/><rect x="215.19" y="290.75" width="2.57" height="65.55"/><rect x="217.76" y="315.33" width="2.57" height="40.97"/><rect x="220.34" y="307.14" width="2.57" height="49.16"/><rect x="222.91" y="331.72" width="2.57" height="24.58"/><rect x="225.48" y="315.33" width="2.57" height="40.97"/><rect x="228.06" y="294.85" width="2.57" height="61.46"/><rect x="230.63" y="323.52" width="2.57" height="32.78"/><rect x="233.2" y="319.43" width="2.57" height="36.87"/><rect x="235.77" y="344.01" width="2.57" height="12.29"/><rect x="238.35" y="344.01" width="2.57" height="12.29"/><rect x="240.92" y="315.33" width="2.57" height="40.97"/><rect x="243.49" y="339.91" width="2.57" height="16.39"/><rect x="246.07" y="348.11" width="2.57" height="8.19"/><rect x="248.64" y="352.2" width="2.57" height="4.1"/><rect x="251.21" y="344.01" width="2.57" height="12.29"/><rect x="253.79" y="344.01" width="2.57" height="12.29"/><rect x="256.36" y="348.11" width="2.57" height="8.19"/><rect x="258.93" y="348.11" width="2.57" height="8.19"/><rect x="261.5" y="344.01" width="2.57" height="12.29"/><rect x="264.08" y="339.91" width="2.57" height="16.39"/><rect x="269.22" y="352.2" width="2.57" height="4.1"/><rect x="271.8" y="344.01" width="2.57" height="12.29"/><rect x="274.37" y="348.11" width="2.57" height="8.19"/><rect x="276.94" y="352.2" width="2.57" height="4.1"/><rect x="282.09" y="352.2" width="2.57" height="4.1"/><rect x="292.38" y="352.2" width="2.57" height="4.1"/><rect x="297.53" y="352.2" width="2.57" height="4.1"/></g>
<line x1="24.6" y1="356.3" x2="26.4" y2="356.3" stroke="#999" stroke-width="0.7" />
<text x="23.3" y="359.04" font-size="6.4" text-anchor="end" fill="#1a1a1a" stroke="#1a1a1a" stroke-width="0.15" font-weight="normal" >0.00</text>
<line x1="24.6" y1="338.29" x2="26.4" y2="338.29" stroke="#999" stroke-width="0.7" />
<text x="23.3" y="341.03" font-size="6.4" text-anchor="end" fill="#1a1a1a" stroke="#1a1a1a" stroke-width="0.15" font-weight="normal" >0.01</text>
<line x1="24.6" y1="320.28" x2="26.4" y2="320.28" stroke="#999" stroke-width="0.7" />
<text x="23.3" y="323.02" font-size="6.4" text-anchor="end" fill="#1a1a1a" stroke="#1a1a1a" stroke-width="0.15" font-weight="normal" >0.02</text>
<line x1="24.6" y1="302.27" x2="26.4" y2="302.27" stroke="#999" stroke-width="0.7" />
<text x="23.3" y="305.01" font-size="6.4" text-anchor="end" fill="#1a1a1a" stroke="#1a1a1a" stroke-width="0.15" font-weight="normal" >0.03</text>
<line x1="24.6" y1="284.26" x2="26.4" y2="284.26" stroke="#999" stroke-width="0.7" />
<text x="23.3" y="287" font-size="6.4" text-anchor="end" fill="#1a1a1a" stroke="#1a1a1a" stroke-width="0.15" font-weight="normal" >0.04</text>
<line x1="24.6" y1="266.25" x2="26.4" y2="266.25" stroke="#999" stroke-width="0.7" />
<text x="23.3" y="268.99" font-size="6.4" text-anchor="end" fill="#1a1a1a" stroke="#1a1a1a" stroke-width="0.15" font-weight="normal" >0.05</text>
<line x1="24.6" y1="248.24" x2="26.4" y2="248.24" stroke="#999" stroke-width="0.7" />
<text x="23.3" y="250.98" font-size="6.4" text-anchor="end" fill="#1a1a1a" stroke="#1a1a1a" stroke-width="0.15" font-weight="normal" >0.06</text>
<line x1="24.6" y1="230.23" x2="26.4" y2="230.23" stroke="#999" stroke-width="0.7" />
<text x="23.3" y="232.97" font-size="6.4" text-anchor="end" fill="#1a1a1a" stroke="#1a1a1a" stroke-width="0.15" font-weight="normal" >0.07</text>
<line x1="312.8" y1="348.4" x2="314.5" y2="348.4" stroke="#999" stroke-width="0.7" />
<text x="315.6" y="351.11" font-size="6.3" text-anchor="start" fill="#555" stroke="#555" stroke-width="0.15" font-weight="normal" >0</text>
<line x1="312.8" y1="331.55" x2="314.5" y2="331.55" stroke="#999" stroke-width="0.7" />
<text x="315.6" y="334.26" font-size="6.3" text-anchor="start" fill="#555" stroke="#555" stroke-width="0.15" font-weight="normal" >10</text>
<line x1="312.8" y1="314.7" x2="314.5" y2="314.7" stroke="#999" stroke-width="0.7" />
<text x="315.6" y="317.41" font-size="6.3" text-anchor="start" fill="#555" stroke="#555" stroke-width="0.15" font-weight="normal" >20</text>
<line x1="312.8" y1="297.85" x2="314.5" y2="297.85" stroke="#999" stroke-width="0.7" />
<text x="315.6" y="300.56" font-size="6.3" text-anchor="start" fill="#555" stroke="#555" stroke-width="0.15" font-weight="normal" >30</text>
<line x1="312.8" y1="281" x2="314.5" y2="281" stroke="#999" stroke-width="0.7" />
<text x="315.6" y="283.71" font-size="6.3" text-anchor="start" fill="#555" stroke="#555" stroke-width="0.15" font-weight="normal" >40</text>
<line x1="312.8" y1="264.15" x2="314.5" y2="264.15" stroke="#999" stroke-width="0.7" />
<text x="315.6" y="266.86" font-size="6.3" text-anchor="start" fill="#555" stroke="#555" stroke-width="0.15" font-weight="normal" >50</text>
<line x1="312.8" y1="247.3" x2="314.5" y2="247.3" stroke="#999" stroke-width="0.7" />
<text x="315.6" y="250.01" font-size="6.3" text-anchor="start" fill="#555" stroke="#555" stroke-width="0.15" font-weight="normal" >60</text>
<line x1="312.8" y1="230.45" x2="314.5" y2="230.45" stroke="#999" stroke-width="0.7" />
<text x="315.6" y="233.16" font-size="6.3" text-anchor="start" fill="#555" stroke="#555" stroke-width="0.15" font-weight="normal" >70</text>
<line x1="312.8" y1="213.6" x2="314.5" y2="213.6" stroke="#999" stroke-width="0.7" />
<text x="315.6" y="216.31" font-size="6.3" text-anchor="start" fill="#555" stroke="#555" stroke-width="0.15" font-weight="normal" >80</text>
<line x1="57.1" y1="356.3" x2="57.1" y2="358" stroke="#999" stroke-width="0.7" />
<text x="57.1" y="363.91" font-size="6.3" text-anchor="middle" fill="#1a1a1a" stroke="#1a1a1a" stroke-width="0.15" font-weight="normal" >20</text>
<line x1="114.88" y1="356.3" x2="114.88" y2="358" stroke="#999" stroke-width="0.7" />
<text x="114.88" y="363.91" font-size="6.3" text-anchor="middle" fill="#1a1a1a" stroke="#1a1a1a" stroke-width="0.15" font-weight="normal" >30</text>
<line x1="172.66" y1="356.3" x2="172.66" y2="358" stroke="#999" stroke-width="0.7" />
<text x="172.66" y="363.91" font-size="6.3" text-anchor="middle" fill="#1a1a1a" stroke="#1a1a1a" stroke-width="0.15" font-weight="normal" >40</text>
<line x1="230.44" y1="356.3" x2="230.44" y2="358" stroke="#999" stroke-width="0.7" />
<text x="230.44" y="363.91" font-size="6.3" text-anchor="middle" fill="#1a1a1a" stroke="#1a1a1a" stroke-width="0.15" font-weight="normal" >50</text>
<line x1="288.22" y1="356.3" x2="288.22" y2="358" stroke="#999" stroke-width="0.7" />
<text x="288.22" y="363.91" font-size="6.3" text-anchor="middle" fill="#1a1a1a" stroke="#1a1a1a" stroke-width="0.15" font-weight="normal" >60</text>
<polyline points="39.7,349.4 45,349.4 50,349.2 54,348.5 57.5,347.5 61,345.8 64,346.3 67,347.8 71,348.5 75.3,347.6 79.9,346.8 84.6,346.3 89.9,346 95.3,347.6 101.4,346.3 104.5,346.8 109.1,349.2 114.5,346 120.5,349.3 126.1,347.3 132.2,351.2 138.4,348.3 144.5,344.2 149.1,346.3 154.5,345.3 160.6,344.2 165.2,346.5 172.2,351.5 178.1,343.7 185.2,350 189.3,351.1 195.6,343.7 200,345.6 202.6,345.6 206.7,343.3 212.6,349.7 218,347.9 224.3,342.5 229.6,344.5 235,341.1 239.6,342.2 249.5,344.5 255.7,343 262,341.6 270.7,340.5 279.5,339.4 288.2,338.8 293,337.9 299.6,339" fill="none" stroke="#e8222a" stroke-width="1.2" stroke-dasharray="3.4 1.6" stroke-linejoin="round"/>
<rect x="31" y="218.2" width="130" height="15.5" fill="#e9e9e9" stroke="none" stroke-width="0" rx="2.2" />
<rect x="34.4" y="221.9" width="17.2" height="5.8" fill="#00b0ea" stroke="none" stroke-width="0" rx="0" />
<text x="58.9" y="228.32" font-size="8.5" text-anchor="start" fill="#1a1a1a" stroke="#1a1a1a" stroke-width="0.15" font-weight="normal" >Distance Probability Density</text>
<rect x="226.7" y="218.3" width="81.9" height="15.5" fill="#e9e9e9" stroke="none" stroke-width="0" rx="2.2" />
<line x1="230.6" y1="225" x2="247.6" y2="225" stroke="#f25050" stroke-width="1" stroke-dasharray="2.9 1.5" />
<text x="253.9" y="228.32" font-size="8.5" text-anchor="start" fill="#1a1a1a" stroke="#1a1a1a" stroke-width="0.15" font-weight="normal" >Predicted error</text>
<text x="5.3" y="288.43" font-size="10.4" text-anchor="middle" fill="#0a0a0a" stroke="#0a0a0a" stroke-width="0.15" transform="rotate(-90 5.3 285)">Probability Density</text>
<text x="327.6" y="287.81" font-size="8.5" text-anchor="middle" fill="#555" stroke="#555" stroke-width="0.15" transform="rotate(-90 327.6 285)">Predicted Distance Error(Km)</text>
<text x="170" y="375.33" font-size="10.1" text-anchor="middle" fill="#0a0a0a" stroke="#0a0a0a" stroke-width="0.15" font-weight="normal" >Distance(Km)</text>
<text x="341.3" y="205.26" font-size="17.5" text-anchor="start" fill="#000" stroke="#000" stroke-width="0" font-weight="bold" >d</text>
<rect x="385.8" y="214.2" width="279.7" height="142.9" fill="none" stroke="#ececec" stroke-width="0.7" rx="0" />
<g fill="#0275b6"><rect x="398.29" y="302.2" width="10.9" height="54.7"/><rect x="411.75" y="304.1" width="10.9" height="52.8"/><rect x="425.21" y="287.4" width="10.9" height="69.5"/><rect x="438.67" y="288" width="10.9" height="68.9"/><rect x="452.13" y="270" width="10.9" height="86.9"/><rect x="465.59" y="259.4" width="10.9" height="97.5"/><rect x="479.05" y="274.1" width="10.9" height="82.8"/><rect x="492.51" y="236.1" width="10.9" height="120.8"/><rect x="505.97" y="255.9" width="10.9" height="101"/><rect x="519.43" y="246.2" width="10.9" height="110.7"/><rect x="532.89" y="258.1" width="10.9" height="98.8"/><rect x="546.35" y="248.4" width="10.9" height="108.5"/><rect x="559.81" y="223.9" width="10.9" height="133"/><rect x="573.27" y="229.5" width="10.9" height="127.4"/><rect x="586.73" y="229.5" width="10.9" height="127.4"/><rect x="600.19" y="222.5" width="10.9" height="134.4"/><rect x="613.65" y="221.6" width="10.9" height="135.3"/><rect x="627.11" y="229.5" width="10.9" height="127.4"/><rect x="640.57" y="229.5" width="10.9" height="127.4"/></g>
<line x1="383.6" y1="356.9" x2="385.6" y2="356.9" stroke="#999" stroke-width="0.7" />
<text x="382.4" y="359.88" font-size="6.5" text-anchor="end" fill="#1a1a1a" stroke="#1a1a1a" stroke-width="0.15" font-weight="normal" >0</text>
<line x1="383.6" y1="340.97" x2="385.6" y2="340.97" stroke="#999" stroke-width="0.7" />
<text x="382.4" y="343.95" font-size="6.5" text-anchor="end" fill="#1a1a1a" stroke="#1a1a1a" stroke-width="0.15" font-weight="normal" >5</text>
<line x1="383.6" y1="325.05" x2="385.6" y2="325.05" stroke="#999" stroke-width="0.7" />
<text x="382.4" y="328.03" font-size="6.5" text-anchor="end" fill="#1a1a1a" stroke="#1a1a1a" stroke-width="0.15" font-weight="normal" >10</text>
<line x1="383.6" y1="309.12" x2="385.6" y2="309.12" stroke="#999" stroke-width="0.7" />
<text x="382.4" y="312.1" font-size="6.5" text-anchor="end" fill="#1a1a1a" stroke="#1a1a1a" stroke-width="0.15" font-weight="normal" >15</text>
<line x1="383.6" y1="293.2" x2="385.6" y2="293.2" stroke="#999" stroke-width="0.7" />
<text x="382.4" y="296.18" font-size="6.5" text-anchor="end" fill="#1a1a1a" stroke="#1a1a1a" stroke-width="0.15" font-weight="normal" >20</text>
<line x1="383.6" y1="277.27" x2="385.6" y2="277.27" stroke="#999" stroke-width="0.7" />
<text x="382.4" y="280.25" font-size="6.5" text-anchor="end" fill="#1a1a1a" stroke="#1a1a1a" stroke-width="0.15" font-weight="normal" >25</text>
<line x1="383.6" y1="261.35" x2="385.6" y2="261.35" stroke="#999" stroke-width="0.7" />
<text x="382.4" y="264.33" font-size="6.5" text-anchor="end" fill="#1a1a1a" stroke="#1a1a1a" stroke-width="0.15" font-weight="normal" >30</text>
<line x1="383.6" y1="245.42" x2="385.6" y2="245.42" stroke="#999" stroke-width="0.7" />
<text x="382.4" y="248.4" font-size="6.5" text-anchor="end" fill="#1a1a1a" stroke="#1a1a1a" stroke-width="0.15" font-weight="normal" >35</text>
<line x1="383.6" y1="229.5" x2="385.6" y2="229.5" stroke="#999" stroke-width="0.7" />
<text x="382.4" y="232.48" font-size="6.5" text-anchor="end" fill="#1a1a1a" stroke="#1a1a1a" stroke-width="0.15" font-weight="normal" >40</text>
<line x1="665.6" y1="348" x2="667.3" y2="348" stroke="#999" stroke-width="0.7" />
<text x="667.8" y="350.71" font-size="6.3" text-anchor="start" fill="#555" stroke="#555" stroke-width="0.15" font-weight="normal" >0</text>
<line x1="665.6" y1="331.4" x2="667.3" y2="331.4" stroke="#999" stroke-width="0.7" />
<text x="667.8" y="334.11" font-size="6.3" text-anchor="start" fill="#555" stroke="#555" stroke-width="0.15" font-weight="normal" >10</text>
<line x1="665.6" y1="314.8" x2="667.3" y2="314.8" stroke="#999" stroke-width="0.7" />
<text x="667.8" y="317.51" font-size="6.3" text-anchor="start" fill="#555" stroke="#555" stroke-width="0.15" font-weight="normal" >20</text>
<line x1="665.6" y1="298.2" x2="667.3" y2="298.2" stroke="#999" stroke-width="0.7" />
<text x="667.8" y="300.91" font-size="6.3" text-anchor="start" fill="#555" stroke="#555" stroke-width="0.15" font-weight="normal" >30</text>
<line x1="665.6" y1="281.6" x2="667.3" y2="281.6" stroke="#999" stroke-width="0.7" />
<text x="667.8" y="284.31" font-size="6.3" text-anchor="start" fill="#555" stroke="#555" stroke-width="0.15" font-weight="normal" >40</text>
<line x1="665.6" y1="265" x2="667.3" y2="265" stroke="#999" stroke-width="0.7" />
<text x="667.8" y="267.71" font-size="6.3" text-anchor="start" fill="#555" stroke="#555" stroke-width="0.15" font-weight="normal" >50</text>
<line x1="665.6" y1="248.4" x2="667.3" y2="248.4" stroke="#999" stroke-width="0.7" />
<text x="667.8" y="251.11" font-size="6.3" text-anchor="start" fill="#555" stroke="#555" stroke-width="0.15" font-weight="normal" >60</text>
<line x1="665.6" y1="231.8" x2="667.3" y2="231.8" stroke="#999" stroke-width="0.7" />
<text x="667.8" y="234.51" font-size="6.3" text-anchor="start" fill="#555" stroke="#555" stroke-width="0.15" font-weight="normal" >70</text>
<line x1="665.6" y1="215.2" x2="667.3" y2="215.2" stroke="#999" stroke-width="0.7" />
<text x="667.8" y="217.91" font-size="6.3" text-anchor="start" fill="#555" stroke="#555" stroke-width="0.15" font-weight="normal" >80</text>
<line x1="417.2" y1="357.1" x2="417.2" y2="358.8" stroke="#999" stroke-width="0.7" />
<text x="417.2" y="364.74" font-size="6.4" text-anchor="middle" fill="#1a1a1a" stroke="#1a1a1a" stroke-width="0.15" font-weight="normal" >5.0</text>
<line x1="450.85" y1="357.1" x2="450.85" y2="358.8" stroke="#999" stroke-width="0.7" />
<text x="450.85" y="364.74" font-size="6.4" text-anchor="middle" fill="#1a1a1a" stroke="#1a1a1a" stroke-width="0.15" font-weight="normal" >7.5</text>
<line x1="484.5" y1="357.1" x2="484.5" y2="358.8" stroke="#999" stroke-width="0.7" />
<text x="484.5" y="364.74" font-size="6.4" text-anchor="middle" fill="#1a1a1a" stroke="#1a1a1a" stroke-width="0.15" font-weight="normal" >10.0</text>
<line x1="518.15" y1="357.1" x2="518.15" y2="358.8" stroke="#999" stroke-width="0.7" />
<text x="518.15" y="364.74" font-size="6.4" text-anchor="middle" fill="#1a1a1a" stroke="#1a1a1a" stroke-width="0.15" font-weight="normal" >12.5</text>
<line x1="551.8" y1="357.1" x2="551.8" y2="358.8" stroke="#999" stroke-width="0.7" />
<text x="551.8" y="364.74" font-size="6.4" text-anchor="middle" fill="#1a1a1a" stroke="#1a1a1a" stroke-width="0.15" font-weight="normal" >15.0</text>
<line x1="585.45" y1="357.1" x2="585.45" y2="358.8" stroke="#999" stroke-width="0.7" />
<text x="585.45" y="364.74" font-size="6.4" text-anchor="middle" fill="#1a1a1a" stroke="#1a1a1a" stroke-width="0.15" font-weight="normal" >17.5</text>
<line x1="619.1" y1="357.1" x2="619.1" y2="358.8" stroke="#999" stroke-width="0.7" />
<text x="619.1" y="364.74" font-size="6.4" text-anchor="middle" fill="#1a1a1a" stroke="#1a1a1a" stroke-width="0.15" font-weight="normal" >20.0</text>
<line x1="652.75" y1="357.1" x2="652.75" y2="358.8" stroke="#999" stroke-width="0.7" />
<text x="652.75" y="364.74" font-size="6.4" text-anchor="middle" fill="#1a1a1a" stroke="#1a1a1a" stroke-width="0.15" font-weight="normal" >22.5</text>
<polyline points="403.5,346.6 417.8,345.3 430.1,342.8 442.4,344.9 455.7,346.2 470.9,343.8 483.2,342.8 497.5,344.9 510.7,346.2 524,345.9 535.3,346.2 549.6,346.9 558.3,345.1 566,342.9 576.9,344.5 590,345.1 605.4,345.8 618.5,345.1 631.7,344 639.3,345.1 645.9,346.7" fill="none" stroke="#e8222a" stroke-width="1.2" stroke-dasharray="4 2" stroke-linejoin="round"/>
<rect x="389.1" y="219" width="59.9" height="14.6" fill="#e9e9e9" stroke="none" stroke-width="0" rx="2.2" />
<rect x="393" y="222.5" width="16.7" height="6.1" fill="#0275b6" stroke="none" stroke-width="0" rx="0" />
<text x="416.7" y="228.86" font-size="8.3" text-anchor="start" fill="#1a1a1a" stroke="#1a1a1a" stroke-width="0.15" font-weight="normal" >Distance</text>
<rect x="548.9" y="219" width="112" height="14.9" fill="rgba(233,233,233,0.78)" stroke="none" stroke-width="0" rx="2.2" />
<line x1="552.6" y1="225.4" x2="569.4" y2="225.4" stroke="#f25050" stroke-width="1" stroke-dasharray="2.9 1.5" />
<text x="575.8" y="229.02" font-size="8.5" text-anchor="start" fill="#1a1a1a" stroke="#1a1a1a" stroke-width="0.15" font-weight="normal" >Predicted Distance error</text>
<text x="369.8" y="289.3" font-size="10" text-anchor="middle" fill="#0a0a0a" stroke="#0a0a0a" stroke-width="0.15" transform="rotate(-90 369.8 286)">Distance(Km)</text>
<text x="680" y="290.93" font-size="10.1" text-anchor="middle" fill="#555" stroke="#555" stroke-width="0.15" transform="rotate(-90 680 287.6)">Predicted Distance Error(Km)</text>
<text x="524.4" y="375.11" font-size="9.7" text-anchor="middle" fill="#0a0a0a" stroke="#0a0a0a" stroke-width="0.15" font-weight="normal" >Capacity(Ah)</text>
</svg>
</body></html>
